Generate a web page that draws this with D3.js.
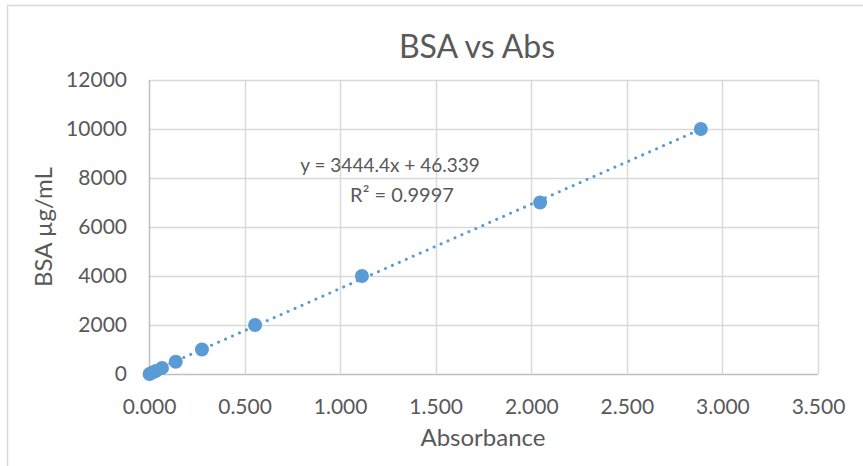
<!DOCTYPE html>
<html><head><meta charset="utf-8">
<script src="https://cdn.jsdelivr.net/npm/d3@7"></script>
<style>body{margin:0;background:#fff;}svg{display:block;}text{font-family:Lato,"Open Sans",sans-serif;fill:#595959;}</style>
</head><body>
<svg id="c" width="863" height="466"></svg>
<script>
const absorbance = [0.003, 0.018, 0.036, 0.068, 0.140, 0.277, 0.555, 1.114, 2.046, 2.887];
const bsa = [0, 62.5, 125, 250, 500, 1000, 2000, 4000, 7000, 10000];
const xTicks = [0, 0.5, 1, 1.5, 2, 2.5, 3, 3.5];
const yTicks = [0, 2000, 4000, 6000, 8000, 10000, 12000];
const slope = 3444.4, intercept = 46.339;
const title = "BSA vs Abs", xTitle = "Absorbance", yTitle = "BSA µg/mL";
const eqText = "y = 3444.4x + 46.339", r2Text = "R² = 0.9997";

const svg = d3.select("#c");
const L = 149, R = 818, T = 80, B = 374;
const x = d3.scaleLinear().domain([0, 3.5]).range([L, R]);
const y = d3.scaleLinear().domain([0, 12000]).range([B, T]);
const blue = "#5B9BD5";

svg.append("rect").attr("x", 7.5).attr("y", 5.5).attr("width", 900).attr("height", 500)
  .attr("fill", "none").attr("stroke", "#d9d9d9").attr("stroke-width", 1.5);

// gridlines
svg.append("g").selectAll("line").data(yTicks).join("line")
  .attr("x1", L).attr("x2", R).attr("y1", d => Math.round(y(d)) + 0.5).attr("y2", d => Math.round(y(d)) + 0.5)
  .attr("stroke", d => d === 0 ? "#bfbfbf" : "#d9d9d9").attr("stroke-width", 1.5);
svg.append("g").selectAll("line").data(xTicks).join("line")
  .attr("y1", T).attr("y2", B).attr("x1", d => Math.round(x(d)) + 0.5).attr("x2", d => Math.round(x(d)) + 0.5)
  .attr("stroke", d => d === 0 ? "#bfbfbf" : "#d9d9d9").attr("stroke-width", 1.5);

// axis labels via d3 axes
const yAxis = svg.append("g").attr("transform", `translate(${L},0)`)
  .call(d3.axisLeft(y).tickValues(yTicks).tickSize(0).tickPadding(22).tickFormat(d3.format("d")));
const xAxis = svg.append("g").attr("transform", `translate(0,${B})`)
  .call(d3.axisBottom(x).tickValues(xTicks).tickSize(0).tickPadding(25).tickFormat(d3.format(".3f")));
[yAxis, xAxis].forEach(a => {
  a.select(".domain").remove();
  a.selectAll("text").style("font-family", "Lato, sans-serif").style("font-size", "21px").attr("fill", "#595959");
});

// trendline
const x0 = 0, x1 = d3.max(absorbance);
svg.append("line").attr("x1", x(x0)).attr("y1", y(slope * x0 + intercept))
  .attr("x2", x(x1)).attr("y2", y(slope * x1 + intercept))
  .attr("stroke", blue).attr("stroke-width", 3).attr("stroke-linecap", "round")
  .attr("stroke-dasharray", "0.1 7.5");

// points
svg.append("g").selectAll("circle").data(absorbance.map((a, i) => [a, bsa[i]])).join("circle")
  .attr("cx", d => x(d[0])).attr("cy", d => y(d[1])).attr("r", 7).attr("fill", blue);

// titles
svg.append("text").attr("x", 477).attr("y", 58).attr("text-anchor", "middle")
  .style("font-size", "32px").text(title);
svg.append("text").attr("x", 483).attr("y", 446).attr("text-anchor", "middle")
  .style("font-size", "24px").text(xTitle);
svg.append("text").attr("transform", "translate(52,227) rotate(-90)").attr("text-anchor", "middle")
  .style("font-size", "24px").text(yTitle);
svg.append("text").attr("x", 390).attr("y", 172).attr("text-anchor", "middle")
  .style("font-size", "19px").text(eqText);
svg.append("text").attr("x", 402).attr("y", 202).attr("text-anchor", "middle")
  .style("font-size", "20px").text(r2Text);
</script>
</body></html>
